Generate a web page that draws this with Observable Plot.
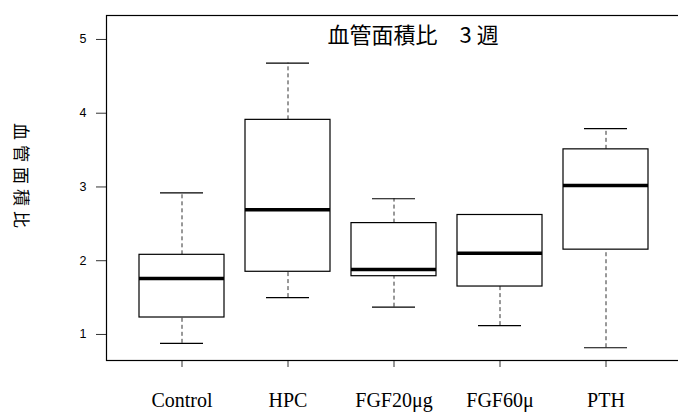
<!DOCTYPE html>
<html>
<head>
<meta charset="utf-8">
<script src="https://cdn.jsdelivr.net/npm/d3@7"></script>
<script src="https://cdn.jsdelivr.net/npm/@observablehq/plot@0.6"></script>
<style>
  html, body { margin: 0; padding: 0; background: #fff; }
  #chart { width: 678px; height: 412px; overflow: hidden; }
</style>
</head>
<body>
<div id="chart"></div>
<script>
const groups = ["Control", "HPC", "FGF20μg", "FGF60μ", "PTH"];
const lowWhisker  = [0.88, 1.50, 1.37, 1.12, 0.82];
const q1          = [1.23, 1.85, 1.79, 1.65, 2.15];
const median      = [1.76, 2.69, 1.88, 2.10, 3.02];
const q3          = [2.08, 3.91, 2.51, 2.62, 3.51];
const highWhisker = [2.92, 4.68, 2.84, 2.62, 3.79];
const yTicks = [1, 2, 3, 4, 5];
const title = "血管面積比　3 週";
const yLabel = "血管面積比";

const rows = groups.map((g, i) => ({
  group: g, lo: lowWhisker[i], q1: q1[i], med: median[i], q3: q3[i], hi: highWhisker[i]
}));

const chart = Plot.plot({
  width: 678,
  height: 412,
  marginLeft: 106,
  marginRight: -3,
  marginTop: 15,
  marginBottom: 52,
  style: { background: "#fff", color: "#000", overflow: "visible" },
  x: {
    type: "band", domain: groups, paddingInner: 0.2, paddingOuter: 0.3,
    label: null, tickSize: 7, tickPadding: 25
  },
  y: {
    domain: [0.647, 5.325], ticks: yTicks, tickSize: 10, tickPadding: 10,
    tickFormat: d => String(d), label: null
  },
  marks: [
    Plot.frame({ stroke: "#000", strokeWidth: 1.2 }),
    Plot.ruleX(rows, { x: "group", y1: "q3", y2: "hi", stroke: "#333", strokeDasharray: "4,3" }),
    Plot.ruleX(rows, { x: "group", y1: "lo", y2: "q1", stroke: "#333", strokeDasharray: "4,3" }),
    Plot.tickY(rows, { x: "group", y: "hi", inset: 21, stroke: "#000", strokeWidth: 1.2 }),
    Plot.tickY(rows, { x: "group", y: "lo", inset: 21, stroke: "#000", strokeWidth: 1.2 }),
    Plot.barY(rows, { x: "group", y1: "q1", y2: "q3", fill: "#fff", stroke: "#000", strokeWidth: 1.2 }),
    Plot.tickY(rows, { x: "group", y: "med", stroke: "#000", strokeWidth: 3.5 }),
    Plot.text([title], {
      frameAnchor: "top-left", textAnchor: "start", lineAnchor: "middle",
      dx: 221, dy: 20, fontSize: 22, fontFamily: "Noto Sans CJK JP", fill: "#000"
    }),
    Plot.text([yLabel], {
      frameAnchor: "left", textAnchor: "middle", lineAnchor: "middle",
      dx: -86, dy: -10, rotate: 90, fontSize: 17, fontFamily: "Noto Sans CJK JP",
      fill: "#000", className: "ylab"
    })
  ]
});

d3.select(chart).selectAll(".ylab text, text.ylab").attr("letter-spacing", "5px");
d3.select(chart).selectAll("[aria-label='x-axis tick label']")
  .attr("font-family", "'Liberation Serif', serif").attr("font-size", 20);
d3.select(chart).selectAll("[aria-label='y-axis tick label']")
  .attr("font-family", "'Liberation Sans', Arial, sans-serif").attr("font-size", 12.5);
d3.select(chart).selectAll("[aria-label='y-axis tick'], [aria-label='x-axis tick']")
  .attr("stroke", "#333");

document.getElementById("chart").appendChild(chart);
</script>
</body>
</html>
